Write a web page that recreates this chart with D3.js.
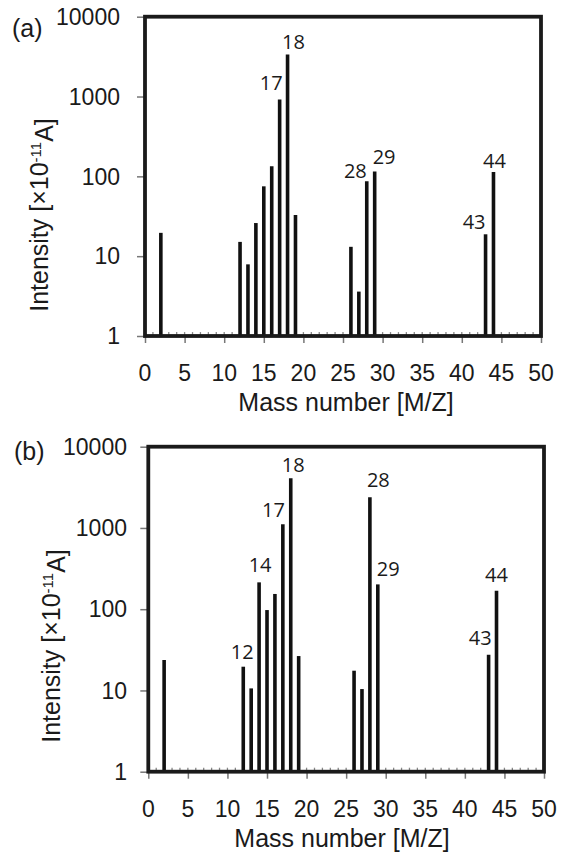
<!DOCTYPE html>
<meta charset="utf-8">
<style>
body { margin: 0; background: #fff; }
svg text { font-family: "Liberation Sans", Arial, sans-serif; fill: #1a1a1a; }
svg .peak { font-family: "Open Sans", sans-serif; font-size: 20px; }
</style>
<body>
<svg width="565" height="852"></svg>
<script src="https://cdn.jsdelivr.net/npm/d3@7"></script>
<script>

// mass numbers with a visible peak, and intensities
var massA = [2, 12, 13, 14, 15, 16, 17, 18, 19, 26, 27, 28, 29, 43, 44];
var intensA = [19.6, 15.1, 7.9, 26, 75, 134, 916, 3350, 32.8, 13.1, 3.6, 86.7, 115, 18.8, 113];
var labelsA = [17, 18, 28, 29, 43, 44];

var massB = [2, 12, 13, 14, 15, 16, 17, 18, 19, 26, 27, 28, 29, 43, 44];
var intensB = [23.7, 19.6, 10.6, 214, 97.6, 154, 1110, 4080, 26.5, 17.5, 10.4, 2385, 202, 27.5, 169];
var labelsB = [12, 14, 17, 18, 28, 29, 43, 44];

var xTicks = [0, 5, 10, 15, 20, 25, 30, 35, 40, 45, 50];
var yTicks = [1, 10, 100, 1000, 10000];
var baseLevel = 1.12; // small stubs every mass number

var svg = d3.select("svg");

// label placement tweaks (anchor, dx, gap above bar top)
var placeA = {17:["end",3,10], 18:["middle",6,6], 28:["end",0,3], 29:["start",-2,8], 43:["end",0,5], 44:["middle",1,4]};
var placeB = {12:["middle",-1,8], 14:["middle",1,10], 17:["end",2,7], 18:["middle",2.5,6], 28:["start",-3,10], 29:["start",-1,8], 43:["end",3,10], 44:["middle",0,9]};

function panel(o) {
  var x = d3.scaleLinear().domain([0, 50]).range([o.left, o.right]);
  var y = d3.scaleLog().domain([1, 10000]).range([o.bottom, o.top]);
  var g = svg.append("g");

  // axes
  g.append("g").attr("transform", "translate(0," + o.bottom + ")")
    .call(d3.axisBottom(x).tickValues(xTicks).tickSize(7).tickFormat(""))
    .call(s => s.select(".domain").remove())
    .call(s => s.selectAll("line").attr("stroke", "#777").attr("stroke-width", 1.5));
  g.append("g").attr("transform", "translate(" + o.left + ",0)")
    .call(d3.axisLeft(y).tickValues(yTicks).tickSize(8).tickFormat(""))
    .call(s => s.select(".domain").remove())
    .call(s => s.selectAll("line").attr("stroke", "#777").attr("stroke-width", 1.5));

  g.selectAll(".xl").data(xTicks).enter().append("text")
    .attr("x", d => x(d)).attr("y", o.bottom + 45)
    .attr("text-anchor", "middle").style("font-size", "23px")
    .text(d => d);
  g.selectAll(".yl").data(yTicks).enter().append("text")
    .attr("x", o.yLabelRight).attr("y", d => y(d)).attr("dy", "0.36em")
    .attr("text-anchor", "end").style("font-size", "23px")
    .text(d => d);

  // small stubs on the baseline
  g.selectAll(".stub").data(d3.range(1, 50)).enter().append("line")
    .attr("x1", d => x(d)).attr("x2", d => x(d))
    .attr("y1", y(1)).attr("y2", y(baseLevel))
    .attr("stroke", "#888").attr("stroke-width", 1.3);

  // peaks
  g.selectAll(".bar").data(o.mass).enter().append("line")
    .attr("x1", d => x(d)).attr("x2", d => x(d))
    .attr("y1", y(1)).attr("y2", (d, i) => y(o.val[i]))
    .attr("stroke", "#111").attr("stroke-width", 3.6);

  o.labels.forEach(function(m) {
    var v = o.val[o.mass.indexOf(m)], p = o.place[m];
    g.append("text").attr("class", "peak")
      .attr("x", x(m) + p[1]).attr("y", y(v) - p[2])
      .attr("text-anchor", p[0]).text(m);
  });

  // frame
  g.append("rect")
    .attr("x", o.left).attr("y", o.top)
    .attr("width", o.right - o.left).attr("height", o.bottom - o.top)
    .attr("fill", "none").attr("stroke", "#1a1a1a").attr("stroke-width", 3.8);

  // titles
  g.append("text").attr("x", o.xTitleX).attr("y", o.bottom + 75)
    .attr("text-anchor", "middle").style("font-size", "25px")
    .text("Mass number [M/Z]");
  var t = g.append("text")
    .attr("transform", "translate(" + o.yTitleX + "," + o.yTitleY + ") rotate(-90)")
    .attr("text-anchor", "middle").style("font-size", "25px");
  t.append("tspan").text("Intensity [×10");
  t.append("tspan").attr("dy", "-0.45em").style("font-size", "15px").text("-11");
  t.append("tspan").attr("dy", "0.45em").text("A]");

  g.append("text").attr("x", o.tagX).attr("y", o.tagY)
    .style("font-size", "25px").text(o.tag);
}

panel({mass: massA, val: intensA, labels: labelsA, place: placeA,
  left: 145, right: 541, top: 16.7, bottom: 336,
  yLabelRight: 120, yTitleX: 48, yTitleY: 215, xTitleX: 346,
  tag: "(a)", tagX: 12, tagY: 37});

panel({mass: massB, val: intensB, labels: labelsB, place: placeB,
  left: 148.3, right: 544, top: 446.7, bottom: 771.7,
  yLabelRight: 127, yTitleX: 60, yTitleY: 646, xTitleX: 342,
  tag: "(b)", tagX: 14, tagY: 460});

</script>
</body>
